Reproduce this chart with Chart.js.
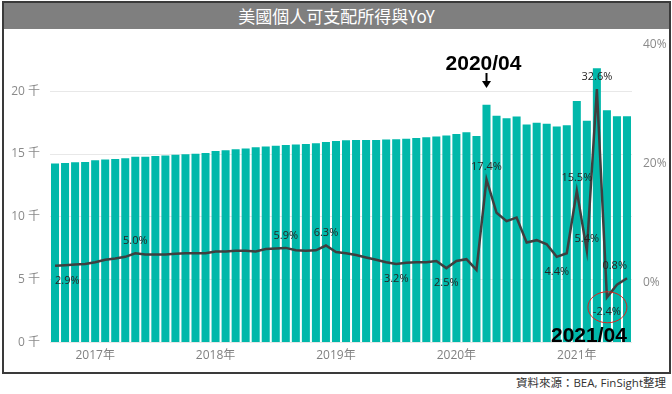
<!DOCTYPE html>
<html>
<head>
<meta charset="utf-8">
<script src="https://cdn.jsdelivr.net/npm/chart.js@4/dist/chart.umd.min.js"></script>
<style>
  html, body { margin: 0; padding: 0; background: #fff; }
  #wrap { position: relative; width: 672px; height: 394px; overflow: hidden; font-family: "Open Sans", "Noto Sans CJK TC", sans-serif; }
  #frame { position: absolute; left: 2px; top: 1px; width: 665px; height: 369px; border: 2px solid #3a3a3a; box-sizing: content-box; }
  #titlebar { position: absolute; left: 0; top: 0; right: 0; height: 26px; background: #7f7f7f; color: #fff; text-align: center; font: 17px/26px "Noto Sans CJK TC", sans-serif; }
  #footer { position: absolute; right: 6px; top: 375px; font: 11.5px/16px "Open Sans", "Noto Sans CJK TC", sans-serif; color: #333; }
  #c { position: absolute; left: 0; top: 0; }
</style>
</head>
<body>
<div id="wrap">
  <div id="frame"><div id="titlebar">美國個人可支配所得與YoY</div></div>
  <div id="footer">資料來源：BEA, FinSight整理</div>
  <canvas id="c" width="672" height="394"></canvas>
</div>
<script>
// Categories: months from 2016-09 to 2021-06
const months = [
  "2016-09","2016-10","2016-11","2016-12",
  "2017-01","2017-02","2017-03","2017-04","2017-05","2017-06","2017-07","2017-08","2017-09","2017-10","2017-11","2017-12",
  "2018-01","2018-02","2018-03","2018-04","2018-05","2018-06","2018-07","2018-08","2018-09","2018-10","2018-11","2018-12",
  "2019-01","2019-02","2019-03","2019-04","2019-05","2019-06","2019-07","2019-08","2019-09","2019-10","2019-11","2019-12",
  "2020-01","2020-02","2020-03","2020-04","2020-05","2020-06","2020-07","2020-08","2020-09","2020-10","2020-11","2020-12",
  "2021-01","2021-02","2021-03","2021-04","2021-05","2021-06"
];
// Disposable personal income (thousands of billions, 千)
const income = [
  14.25,14.29,14.35,14.37,
  14.50,14.56,14.61,14.66,14.79,14.79,14.85,14.88,14.95,14.98,15.03,15.09,
  15.25,15.30,15.38,15.45,15.55,15.60,15.67,15.72,15.77,15.80,15.86,15.95,
  16.04,16.10,16.12,16.12,16.12,16.15,16.18,16.22,16.28,16.34,16.39,16.47,
  16.60,16.73,16.44,18.93,18.05,17.84,17.98,17.35,17.50,17.42,17.20,17.30,
  19.23,17.66,21.83,18.49,18.00,18.00
];
// YoY growth (%)
const yoy = [
  2.9,3.0,3.1,3.2,
  3.5,3.9,4.1,4.4,5.0,4.8,4.8,4.8,4.9,5.0,5.0,5.0,
  5.3,5.3,5.4,5.4,5.3,5.7,5.8,5.9,5.5,5.4,5.5,6.3,
  5.2,5.0,4.7,4.3,3.9,3.5,3.2,3.4,3.5,3.5,3.7,2.5,
  3.7,4.0,2.2,17.4,11.8,10.4,11.0,6.8,7.2,6.5,4.4,5.0,
  15.5,5.4,32.6,-2.4,-0.3,0.8
];
// Which YoY points carry a label, and where (above / below)
const labelIdx = [0, 8, 23, 27, 34, 39, 43, 50, 52, 53, 54, 55, 57];
const labelPos = ["below","above","above","above","below","below","above","below","above","above","above","below","above"];
const leftTicks = [0, 5, 10, 15, 20];
const rightTicks = [0, 20, 40];
const annoTop = "2020/04", annoTopIdx = months.indexOf("2020-04");
const annoBottom = "2021/04", annoBottomIdx = months.indexOf("2021-04");

const overlay = {
  id: 'overlay',
  afterDatasetsDraw(chart) {
    const ctx = chart.ctx;
    const ca = chart.chartArea;
    const meta = chart.getDatasetMeta(1);
    ctx.save();
    ctx.font = '11px "Open Sans", sans-serif';
    ctx.fillStyle = '#252423';
    ctx.textAlign = 'center';
    ctx.textBaseline = 'middle';
    labelIdx.forEach((i, k) => {
      const p = meta.data[i];
      const txt = yoy[i].toFixed(1) + '%';
      const w = ctx.measureText(txt).width;
      let x = p.x;
      if (x - w / 2 < ca.left + 5) x = ca.left + 5 + w / 2;
      if (x + w / 2 > ca.right - 5) x = ca.right - 5 - w / 2;
      const y = labelPos[k] === 'above' ? p.y - 12.5 : p.y + 15;
      ctx.fillText(txt, x, y);
    });
    // 2020/04 annotation with arrow
    const xs = chart.scales.x;
    const xa = xs.getPixelForValue(annoTopIdx);
    ctx.font = 'bold 21px "Liberation Sans", Arial, sans-serif';
    ctx.fillStyle = '#000';
    ctx.textBaseline = 'alphabetic';
    ctx.fillText(annoTop, xa - 3, 70);
    ctx.strokeStyle = '#000';
    ctx.lineWidth = 2;
    ctx.beginPath(); ctx.moveTo(xa, 73); ctx.lineTo(xa, 83); ctx.stroke();
    ctx.beginPath(); ctx.moveTo(xa - 4.5, 81); ctx.lineTo(xa + 4.5, 81); ctx.lineTo(xa, 88); ctx.closePath(); ctx.fill();
    // 2021/04 annotation with red circle
    const xb = xs.getPixelForValue(annoBottomIdx);
    const pb = meta.data[annoBottomIdx];
    ctx.strokeStyle = '#e0201b';
    ctx.lineWidth = 1;
    ctx.beginPath();
    ctx.ellipse(xb + 0.5, pb.y + 10, 19.5, 15.5, 0, 0, Math.PI * 2);
    ctx.stroke();
    ctx.fillStyle = '#000';
    ctx.fillText(annoBottom, xb - 18, 342);
    ctx.restore();
  }
};

new Chart(document.getElementById('c'), {
  data: {
    labels: months,
    datasets: [
      { type: 'bar', data: income, yAxisID: 'y', backgroundColor: '#01B8AA', barPercentage: 0.8, categoryPercentage: 1.0, order: 2 },
      { type: 'line', data: yoy, yAxisID: 'y1', borderColor: '#3f3f3f', borderWidth: 2.5, pointRadius: 0, tension: 0, fill: false, order: 1 }
    ]
  },
  options: {
    responsive: false,
    animation: false,
    layout: { padding: { top: 45, bottom: 21.5, left: 0, right: 0 } },
    plugins: { legend: { display: false }, tooltip: { enabled: false } },
    scales: {
      x: {
        type: 'category',
        offset: true,
        grid: { display: false, drawTicks: false },
        border: { display: false },
        ticks: {
          autoSkip: false, maxRotation: 0, padding: 6,
          color: '#808080',
          font: { size: 12, family: '"Open Sans", "Noto Sans CJK TC", sans-serif' },
          callback: function (v, i) { const m = months[i]; return m.endsWith('-01') ? m.slice(0, 4) + '年' : ''; }
        },
        afterFit: s => { s.height = 30; }
      },
      y: {
        position: 'left', min: 0, max: 23.68,
        afterBuildTicks: s => { s.ticks = leftTicks.map(v => ({ value: v })); },
        grid: { color: '#e8e8e8', drawTicks: false },
        border: { display: false },
        ticks: {
          padding: 10, color: '#8a8a8a',
          font: { size: 12, family: '"Open Sans", "Noto Sans CJK TC", sans-serif' },
          callback: v => v + ' 千'
        },
        afterFit: s => { s.width = 50; }
      },
      y1: {
        position: 'right', min: -10, max: 40,
        afterBuildTicks: s => { s.ticks = rightTicks.map(v => ({ value: v })); },
        grid: { display: false, drawTicks: false },
        border: { display: false },
        ticks: {
          padding: 11, color: '#8a8a8a',
          font: { size: 12, family: '"Open Sans", sans-serif' },
          callback: v => v + '%'
        },
        afterFit: s => { s.width = 40; }
      }
    }
  },
  plugins: [overlay]
});
</script>
</body>
</html>
